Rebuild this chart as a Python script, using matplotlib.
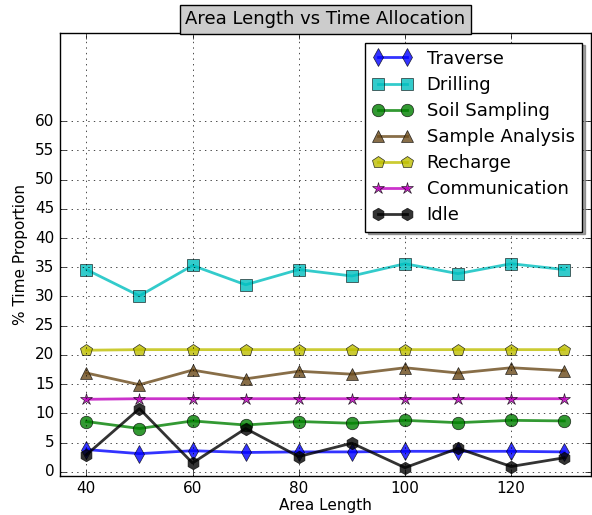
import numpy as np
import matplotlib
matplotlib.use('Agg')
import matplotlib.pyplot as plt

plt.style.use('classic')

area_length = [40, 50, 60, 70, 80, 90, 100, 110, 120, 130]

traverse = [3.8, 3.1, 3.6, 3.3, 3.4, 3.4, 3.5, 3.5, 3.5, 3.4]
drilling = [34.6, 30.1, 35.3, 32.0, 34.6, 33.5, 35.6, 33.9, 35.6, 34.6]
soil_sampling = [8.6, 7.4, 8.7, 8.0, 8.6, 8.3, 8.8, 8.4, 8.8, 8.7]
sample_analysis = [16.9, 14.9, 17.4, 15.9, 17.2, 16.7, 17.8, 16.9, 17.8, 17.3]
recharge = [20.8, 20.9, 20.9, 20.9, 20.9, 20.9, 20.9, 20.9, 20.9, 20.9]
communication = [12.4, 12.5, 12.5, 12.5, 12.5, 12.5, 12.5, 12.5, 12.5, 12.5]
idle = [2.9, 10.8, 1.5, 7.4, 2.6, 4.9, 0.7, 4.0, 0.9, 2.4]

series = [
    ('Traverse', traverse, 'b', 'd'),
    ('Drilling', drilling, 'c', 's'),
    ('Soil Sampling', soil_sampling, 'g', 'o'),
    ('Sample Analysis', sample_analysis, '#6b4a1a', '^'),
    ('Recharge', recharge, 'y', 'p'),
    ('Communication', communication, 'm', '*'),
    ('Idle', idle, 'k', 'h'),
]

fig = plt.figure(figsize=(5.92, 5.15), dpi=100, facecolor='white')
ax = fig.add_axes([0.101, 0.076, 0.897, 0.859])

for name, vals, col, mk in series:
    ax.plot(area_length, vals, color=col, marker=mk, markersize=9, lw=2,
            alpha=0.8, label=name)

ax.set_xlim(35, 135)
ax.set_ylim(-0.7, 75)
ax.set_xticks([40, 60, 80, 100, 120])
ax.set_yticks(np.arange(0, 61, 5))
ax.grid(True, color='k', linestyle=':')
ax.set_xlabel('Area Length', fontsize=11, labelpad=1)
ax.set_ylabel('% Time Proportion', fontsize=11)
ax.tick_params(labelsize=11)
ax.set_title('Area Length vs Time Allocation', fontsize=13,
             bbox=dict(facecolor='#cccccc', edgecolor='k'), y=1.005)

leg = ax.legend(loc='upper right', fontsize=13, shadow=True, numpoints=2,
                handlelength=2.2, borderaxespad=0.5, labelspacing=0.45)

fig.savefig('out.png', dpi=100, facecolor='white')
